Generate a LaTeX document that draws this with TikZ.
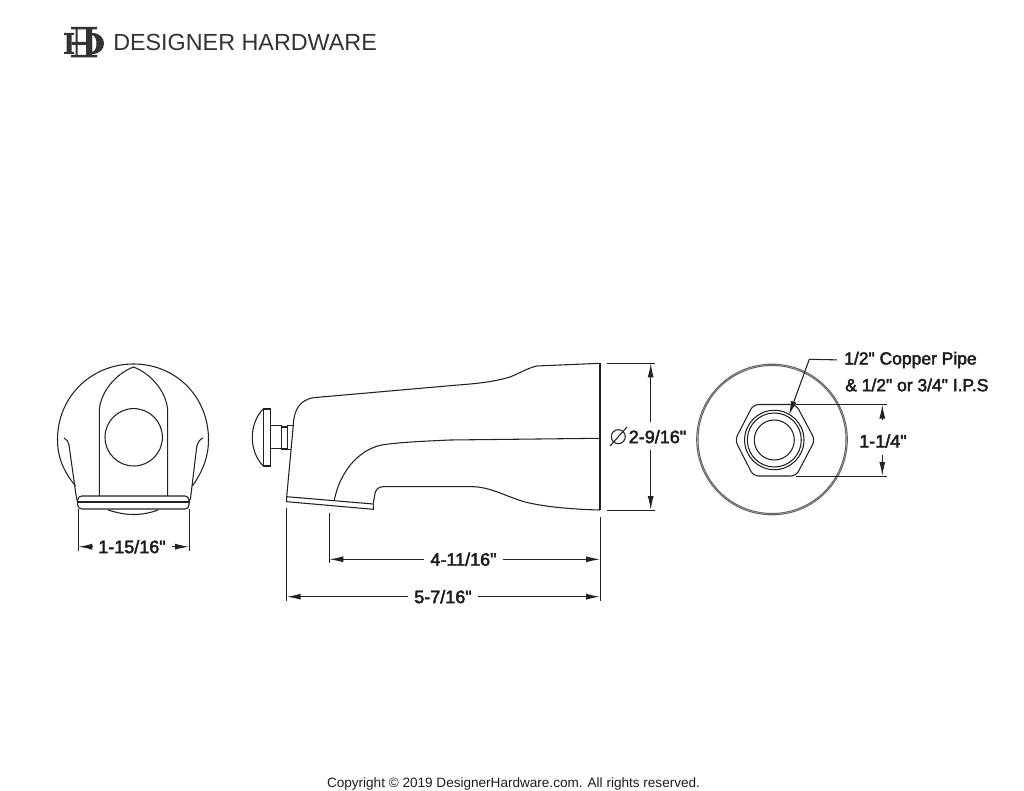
\documentclass[tikz,border=0pt]{standalone}
\usepackage{amsmath}
\usepackage{xcolor}
\usepackage{fontspec}
\usepackage{tikz}
\usetikzlibrary{arrows.meta}
\setmainfont[Ligatures=TeXOff]{Liberation Sans}
\newfontfamily\dimfont[Ligatures=TeXOff,FakeBold=2.6]{Liberation Sans}

\definecolor{inkline}{HTML}{222222}
\definecolor{inktext}{HTML}{1C1C1C}
\definecolor{brandgrey}{HTML}{333333}

\tikzset{
  outline/.style={draw=inkline,line width=0.8pt},
  extline/.style={draw=inkline,line width=0.7pt},
  dimline/.style={draw=inkline,line width=0.8pt,-{Latex[length=10.5pt,width=4.5pt]}},
  dimtext/.style={inner sep=4.8pt,font=\dimfont\fontsize{13.5pt}{15pt}\selectfont,text=inktext},
  notetext/.style={anchor=west,inner sep=0.75pt,font=\dimfont\fontsize{13.1pt}{15pt}\selectfont,text=inktext},
}

\begin{document}
\begin{tikzpicture}[x=0.75pt,y=0.75pt,yscale=-1,xscale=1]
\useasboundingbox (0,0) rectangle (1024,791);

% front view
\draw [outline] (75.5,486) .. controls (64,472) and (57.5,458) .. (57.5,439.5) .. controls (57.5,397) and (91,364) .. (133.5,364) .. controls (176,364) and (208.5,397) .. (208.5,439.5) .. controls (208.5,458) and (202,472) .. (192.5,486) ;
\draw [outline] (64,438) .. controls (67,439) and (68.5,442) .. (69,445) -- (76,495) -- (77.7,503) ;
\draw [outline] (203,438) .. controls (200,439) and (198,442) .. (196.7,447) -- (190.7,497) -- (189,503) ;
\draw [outline] (99.3,496) -- (99.3,411) .. controls (100,393) and (115,374) .. (133.5,367) .. controls (152,374) and (167,393) .. (167.7,411) -- (167.7,496) ;
\draw [outline] (133.7,437.3) circle (28.7) ;
\draw [outline,rounded corners=3] (77.7,496) rectangle (189,509) ;
\draw [outline] (78,502) -- (189,502) ;
\draw [outline] (108,510) .. controls (118,513) and (125,514.5) .. (133.5,514.5) .. controls (142,514.5) and (150,513) .. (158,510) ;

% side view, knob
\draw [outline] (263.3,409) .. controls (256,416) and (252.3,427) .. (252.3,437.5) .. controls (252.3,448) and (256,459) .. (263.3,466) ;
\draw [outline] (263.3,409) rectangle (270.7,466) ;
\draw [outline] (270.7,425.5) rectangle (281.7,448.7) ;
\draw [outline] (281.7,427) rectangle (287.3,449) ;
\draw [outline] (287.3,425.5) -- (293.3,425.5) ;
\draw [outline] (287.3,449.5) -- (291,449.5) ;
\draw [outline] (287.3,425.5) -- (287.3,449.5) ;

% side view, body
\draw [outline] (286.7,496.7) -- (293.3,425.3) .. controls (294,408) and (301,400) .. (313.3,397.7) -- (450,385.7) .. controls (470,384) and (490,383) .. (510,377) .. controls (520,373) and (528,368) .. (536.7,366) -- (600,363.3) ;
\draw [outline] (286.7,496.7) -- (373.3,504) -- (373.3,509.3) -- (286.7,501.7) -- cycle ;
\draw [outline] (334.3,500) .. controls (340,472) and (358,450) .. (381.7,445) .. controls (400,442) and (430,441) .. (450,440) -- (600,438.3) ;
\draw [outline] (373.3,503.3) -- (375,493.3) .. controls (376,489) and (379,486.7) .. (383.3,486.7) -- (473,486.7) .. controls (490,487) and (505,496) .. (525,502) .. controls (545,507) and (575,509.5) .. (600,510) ;
\draw [outline] (600,363.3) -- (600,510) ;

% rear view
\draw [outline,draw=inkline!70] (772,439.5) circle (75.3) ;
\draw [outline,draw=inkline!70] (772,439.5) circle (74) ;
\draw [outline,rounded corners=4] (735,440) -- (753.3,404.5) -- (796,404.5) -- (815,440) -- (796,476) -- (753.3,476) -- cycle ;
\draw [outline] (774.3,440) circle (29.7) ;
\draw [outline] (774.3,440) circle (27) ;
\draw [outline] (774.3,440) circle (20) ;

% extension lines
\draw [extline] (78.3,509) -- (78.3,551) ;
\draw [extline] (189,509) -- (189,551) ;
\draw [extline] (286.7,508) -- (286.7,601) ;
\draw [extline] (329.3,512.7) -- (329.3,563) ;
\draw [extline] (600,516.7) -- (600,601) ;
\draw [extline] (606.7,363.3) -- (655,363.3) ;
\draw [extline] (606.7,510) -- (655,510) ;
\draw [extline] (796,404.5) -- (887,404.5) ;
\draw [extline] (796,476) -- (887,476) ;

% labels
\draw (132,546.7) node (widthlabel) [dimtext] {1-15/16"};
\draw (463.5,559.3) node (spoutlabel) [dimtext] {4-11/16"};
\draw (443,596.7) node (lengthlabel) [dimtext] {5-7/16"};
\draw (657.5,436.7) node (diamlabel) [dimtext] {2-9/16"};
\draw (883,441) node (hexlabel) [dimtext] {1-1/4"};
\draw (843,360) node (pipelabel) [notetext] {1/2" Copper Pipe};
\draw (844,385) node (ipslabel) [notetext] {\& 1/2" or 3/4" I.P.S};
\draw (113,42.5) node (brandlabel) [anchor=west,inner sep=0pt,font=\fontsize{17.5pt}{19pt}\selectfont,text=brandgrey] {DESIGNER HARDWARE};
\draw (513.5,784) node (copylabel) [inner sep=0pt,font=\fontsize{10.17pt}{12pt}\selectfont,text=inktext] {Copyright © 2019 DesignerHardware.com. All rights reserved.};

% diameter sign
\draw [outline] (618.3,436.7) circle (7) ;
\draw [outline] (610,446) -- (627,427) ;

% dimension ends
\coordinate (widthL) at (78.3,546.7);
\coordinate (widthR) at (189,546.7);
\coordinate (spoutL) at (329.3,559.3);
\coordinate (spoutR) at (600,559.3);
\coordinate (lengthL) at (286.7,596.7);
\coordinate (lengthR) at (600,596.7);
\coordinate (diamT) at (650.7,363.3);
\coordinate (diamB) at (650.7,510);
\coordinate (hexT) at (882.3,404.5);
\coordinate (hexB) at (882.3,476);
\coordinate (pipeelbow) at (809.3,359.3);
\coordinate (pipeend) at (789,415);

% dimension lines
\draw [dimline] (widthlabel.west) -- (widthL) ;
\draw [dimline] (widthlabel.east) -- (widthR) ;
\draw [dimline] (spoutlabel.west) -- (spoutL) ;
\draw [dimline] (spoutlabel.east) -- (spoutR) ;
\draw [dimline] (lengthlabel.west) -- (lengthL) ;
\draw [dimline] (lengthlabel.east) -- (lengthR) ;
\draw [dimline] (650.7,421.7) -- (diamT) ;
\draw [dimline] (650.7,450) -- (diamB) ;
\draw [dimline] (882.3,420) -- (hexT) ;
\draw [dimline] (882.3,455) -- (hexB) ;
\draw [dimline,shorten <=4.5pt] (pipelabel.west) -- (pipeelbow) -- (pipeend) ;

% logo
\fill [brandgrey] (64,33) rectangle (74,35) (64,52) rectangle (74,54) (66.5,35) rectangle (71.5,52) ;
\fill [brandgrey] (71,27) rectangle (97,29.5) (71,55) rectangle (97,57.5) (75.5,29.5) rectangle (77.5,55) (86,29.5) rectangle (92,55) (71.5,42) rectangle (86,45) ;
\fill [brandgrey,even odd rule] (92,33) .. controls (108,33) and (108,54) .. (92,54) -- cycle (92,35) .. controls (98,36) and (98,51) .. (92,52) -- cycle ;

\end{tikzpicture}
\end{document}
